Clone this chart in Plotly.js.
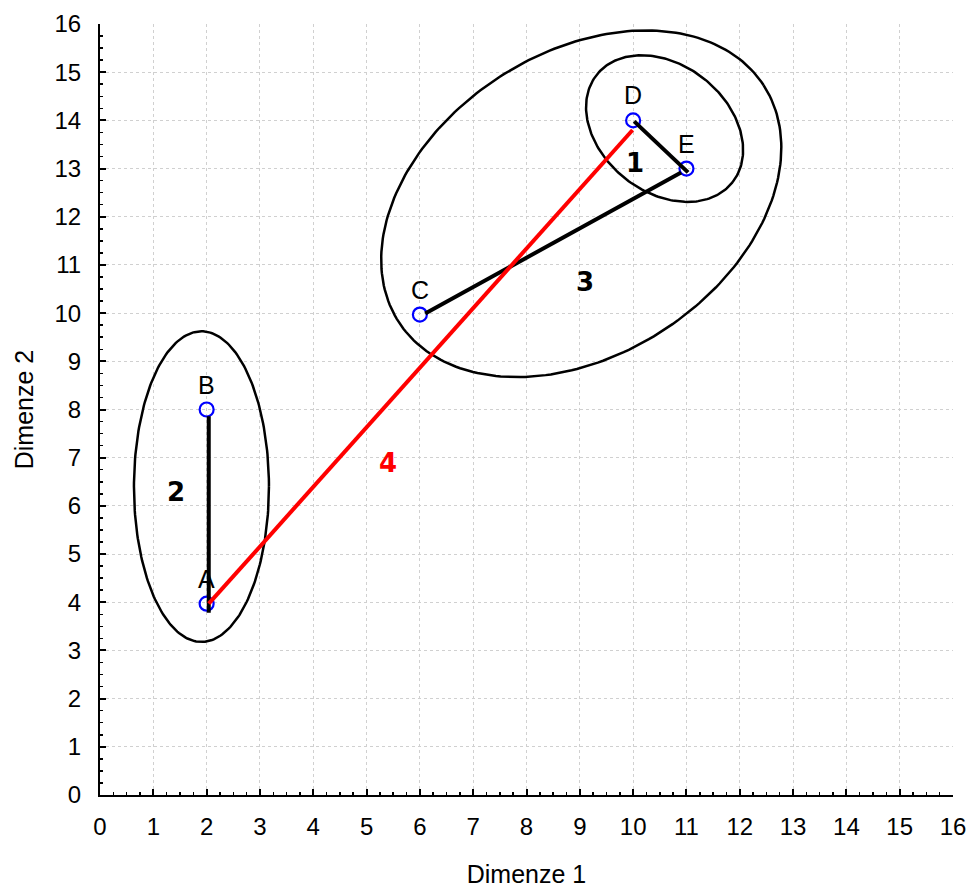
<!DOCTYPE html>
<html>
<head>
<meta charset="utf-8">
<script src="https://cdn.plot.ly/plotly-3.0.1.min.js"></script>
<style>html,body{margin:0;padding:0;background:#fff;}#chart{width:969px;height:888px;}</style>
</head>
<body>
<div id="chart"></div>
<script>
// ---- data ----
const pointNames = ['A', 'B', 'C', 'D', 'E'];
const pointX = [2, 2, 6, 10, 11];
const pointY = [3.97, 8, 9.97, 14, 13];

// cluster link segments
const linkAB_x = [2.04, 2.04];   const linkAB_y = [7.86, 3.78];
const linkCE_x = [6.1, 10.9];    const linkCE_y = [9.99, 12.92];
const linkDE_x = [10.02, 11.03]; const linkDE_y = [13.98, 12.92];
const linkAD_x = [2.04, 9.99];   const linkAD_y = [3.97, 13.8];

// cluster numbers
const clusterLabels = ['1', '2', '3', '4'];
const clusterX = [10.03, 1.43, 9.09, 5.41];
const clusterY = [13.11, 6.29, 10.64, 6.89];

// cluster ellipses: center (data), semi-axes (px), tilt (deg, screen)
const ellCx = [10.59, 1.903, 9.027];
const ellCy = [13.83, 6.40, 12.27];
const ellA = [86.6, 67.5, 217.5];
const ellB = [63.6, 155.3, 150.9];
const ellAng = [38.4, 0, -33.0];

const tickVals = [0,1,2,3,4,5,6,7,8,9,10,11,12,13,14,15,16];

// ---- layout geometry ----
const W = 969, H = 888;
const M = {l: 100, r: 16, t: 24, b: 93};
const xRange = [0, 16], yRange = [0, 16];
const sx = (W - M.l - M.r) / (xRange[1] - xRange[0]);
const sy = (H - M.t - M.b) / (yRange[1] - yRange[0]);

const traces = [];
for (let k = 0; k < ellCx.length; k++) {
  const ex = [], ey = [];
  const th = ellAng[k] * Math.PI / 180;
  for (let i = 0; i <= 240; i++) {
    const t = 2 * Math.PI * i / 240;
    const dx = ellA[k] * Math.cos(t) * Math.cos(th) - ellB[k] * Math.sin(t) * Math.sin(th);
    const dy = ellA[k] * Math.cos(t) * Math.sin(th) + ellB[k] * Math.sin(t) * Math.cos(th);
    ex.push(ellCx[k] + dx / sx);
    ey.push(ellCy[k] - dy / sy);
  }
  traces.push({x: ex, y: ey, mode: 'lines', line: {color: '#000', width: 2.5}, hoverinfo: 'skip', showlegend: false});
}

traces.push({x: pointX, y: pointY, mode: 'markers', showlegend: false,
  marker: {symbol: 'circle-open', size: 14, color: '#0000ff', line: {width: 2.2, color: '#0000ff'}}});

const blackLinks = [[linkAB_x, linkAB_y], [linkCE_x, linkCE_y], [linkDE_x, linkDE_y]];
blackLinks.forEach(function (s) {
  traces.push({x: s[0], y: s[1], mode: 'lines', line: {color: '#000', width: 4}, showlegend: false});
});
traces.push({x: linkAD_x, y: linkAD_y, mode: 'lines', line: {color: '#ff0000', width: 4}, showlegend: false});

const annotations = [];
for (let i = 0; i < pointNames.length; i++) {
  annotations.push({x: pointX[i], y: pointY[i], text: pointNames[i], showarrow: false,
    yshift: 25, xanchor: 'center', yanchor: 'middle',
    font: {family: 'Liberation Sans, Arial, sans-serif', size: 25, color: '#000'}});
}
const clusterColors = ['#000', '#000', '#000', '#ff0000'];
for (let i = 0; i < clusterLabels.length; i++) {
  annotations.push({x: clusterX[i], y: clusterY[i], text: '<b>' + clusterLabels[i] + '</b>', showarrow: false,
    xanchor: 'center', yanchor: 'middle',
    font: {family: 'DejaVu Sans, sans-serif', size: 26, color: clusterColors[i]}});
}

const axisCommon = {
  range: [0, 16], tickvals: tickVals, ticktext: tickVals.map(String),
  showline: true, linecolor: '#000', linewidth: 2,
  ticks: 'inside', ticklen: 6, tickwidth: 2, tickcolor: '#000',
  showgrid: true, gridcolor: '#d0d0d0', griddash: 'dot', gridwidth: 1,
  zeroline: false, mirror: false,
  tickfont: {family: 'Liberation Sans, Arial, sans-serif', size: 24, color: '#000'},
  minor: {dtick: 0.25, tick0: 0, ticks: 'inside', ticklen: 3, tickwidth: 1.5, tickcolor: '#000', showgrid: false},
  fixedrange: true
};

const layout = {
  width: W, height: H,
  margin: M,
  paper_bgcolor: '#fff', plot_bgcolor: '#fff',
  showlegend: false,
  xaxis: Object.assign({}, axisCommon, {
    ticklabelstandoff: 9,
    title: {text: 'Dimenze 1', standoff: 28, font: {family: 'Liberation Sans, Arial, sans-serif', size: 25, color: '#000'}}
  }),
  yaxis: Object.assign({}, axisCommon, {
    ticklabelstandoff: 12,
    title: {text: 'Dimenze 2', standoff: 14, font: {family: 'Liberation Sans, Arial, sans-serif', size: 25, color: '#000'}}
  }),
  annotations: annotations
};

Plotly.newPlot('chart', traces, layout, {displayModeBar: false, staticPlot: true});
</script>
</body>
</html>
